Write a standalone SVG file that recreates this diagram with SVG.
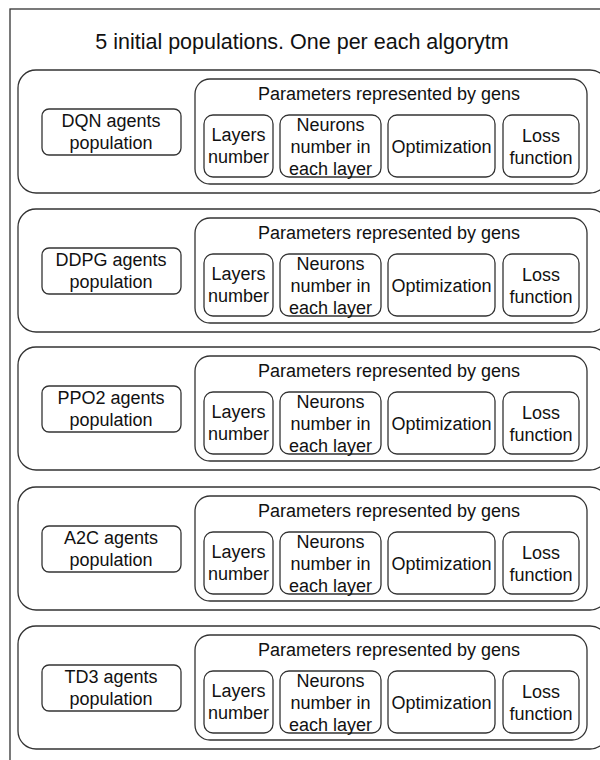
<svg xmlns="http://www.w3.org/2000/svg" width="600" height="760" viewBox="0 0 600 760">
<style>
.box{fill:#fff;stroke:#333;stroke-width:1.3}
.t{font-family:"Liberation Sans",Arial,sans-serif;font-size:18px;fill:#111;text-anchor:middle}
.title{font-family:"Liberation Sans",Arial,sans-serif;font-size:21.5px;fill:#111;text-anchor:middle}
</style>
<rect width="600" height="760" fill="#fff"/>
<g id="frame">
<rect class="box" x="10" y="9" width="600" height="770"/>
<text class="title" x="302" y="49">5 initial populations. One per each algorytm</text>
</g>
<g id="connectors"/>

<g id="row-dqn" transform="translate(0,0)">
<rect class="box" x="18" y="70" width="590" height="123" rx="18"/>
<g id="label-dqn"><rect class="box" x="42" y="109" width="139" height="46" rx="7"/>
<text class="t" x="111" y="127">DQN agents</text><text class="t" x="111" y="149">population</text></g>
<g id="params-dqn"><rect class="box" x="195" y="79" width="392" height="105" rx="15"/>
<text class="t" x="389" y="100">Parameters represented by gens</text>
<g id="layers-dqn"><rect class="box" x="204" y="115" width="69" height="62" rx="9"/><text class="t" x="238.5" y="141">Layers</text><text class="t" x="238.5" y="163">number</text></g>
<g id="neurons-dqn"><rect class="box" x="280" y="115" width="101" height="62" rx="9"/><text class="t" x="330.5" y="131">Neurons</text><text class="t" x="330.5" y="153">number in</text><text class="t" x="330.5" y="175">each layer</text></g>
<g id="optim-dqn"><rect class="box" x="388" y="115" width="107" height="62" rx="9"/><text class="t" x="441.5" y="153">Optimization</text></g>
<g id="loss-dqn"><rect class="box" x="503" y="115" width="76" height="62" rx="9"/><text class="t" x="541" y="142">Loss</text><text class="t" x="541" y="164">function</text></g>
</g>
</g>

<g id="row-ddpg" transform="translate(0,139)">
<rect class="box" x="18" y="70" width="590" height="123" rx="18"/>
<g id="label-ddpg"><rect class="box" x="42" y="109" width="139" height="46" rx="7"/>
<text class="t" x="111" y="127">DDPG agents</text><text class="t" x="111" y="149">population</text></g>
<g id="params-ddpg"><rect class="box" x="195" y="79" width="392" height="105" rx="15"/>
<text class="t" x="389" y="100">Parameters represented by gens</text>
<g id="layers-ddpg"><rect class="box" x="204" y="115" width="69" height="62" rx="9"/><text class="t" x="238.5" y="141">Layers</text><text class="t" x="238.5" y="163">number</text></g>
<g id="neurons-ddpg"><rect class="box" x="280" y="115" width="101" height="62" rx="9"/><text class="t" x="330.5" y="131">Neurons</text><text class="t" x="330.5" y="153">number in</text><text class="t" x="330.5" y="175">each layer</text></g>
<g id="optim-ddpg"><rect class="box" x="388" y="115" width="107" height="62" rx="9"/><text class="t" x="441.5" y="153">Optimization</text></g>
<g id="loss-ddpg"><rect class="box" x="503" y="115" width="76" height="62" rx="9"/><text class="t" x="541" y="142">Loss</text><text class="t" x="541" y="164">function</text></g>
</g>
</g>

<g id="row-ppo2" transform="translate(0,277)">
<rect class="box" x="18" y="70" width="590" height="123" rx="18"/>
<g id="label-ppo2"><rect class="box" x="42" y="109" width="139" height="46" rx="7"/>
<text class="t" x="111" y="127">PPO2 agents</text><text class="t" x="111" y="149">population</text></g>
<g id="params-ppo2"><rect class="box" x="195" y="79" width="392" height="105" rx="15"/>
<text class="t" x="389" y="100">Parameters represented by gens</text>
<g id="layers-ppo2"><rect class="box" x="204" y="115" width="69" height="62" rx="9"/><text class="t" x="238.5" y="141">Layers</text><text class="t" x="238.5" y="163">number</text></g>
<g id="neurons-ppo2"><rect class="box" x="280" y="115" width="101" height="62" rx="9"/><text class="t" x="330.5" y="131">Neurons</text><text class="t" x="330.5" y="153">number in</text><text class="t" x="330.5" y="175">each layer</text></g>
<g id="optim-ppo2"><rect class="box" x="388" y="115" width="107" height="62" rx="9"/><text class="t" x="441.5" y="153">Optimization</text></g>
<g id="loss-ppo2"><rect class="box" x="503" y="115" width="76" height="62" rx="9"/><text class="t" x="541" y="142">Loss</text><text class="t" x="541" y="164">function</text></g>
</g>
</g>

<g id="row-a2c" transform="translate(0,417)">
<rect class="box" x="18" y="70" width="590" height="123" rx="18"/>
<g id="label-a2c"><rect class="box" x="42" y="109" width="139" height="46" rx="7"/>
<text class="t" x="111" y="127">A2C agents</text><text class="t" x="111" y="149">population</text></g>
<g id="params-a2c"><rect class="box" x="195" y="79" width="392" height="105" rx="15"/>
<text class="t" x="389" y="100">Parameters represented by gens</text>
<g id="layers-a2c"><rect class="box" x="204" y="115" width="69" height="62" rx="9"/><text class="t" x="238.5" y="141">Layers</text><text class="t" x="238.5" y="163">number</text></g>
<g id="neurons-a2c"><rect class="box" x="280" y="115" width="101" height="62" rx="9"/><text class="t" x="330.5" y="131">Neurons</text><text class="t" x="330.5" y="153">number in</text><text class="t" x="330.5" y="175">each layer</text></g>
<g id="optim-a2c"><rect class="box" x="388" y="115" width="107" height="62" rx="9"/><text class="t" x="441.5" y="153">Optimization</text></g>
<g id="loss-a2c"><rect class="box" x="503" y="115" width="76" height="62" rx="9"/><text class="t" x="541" y="142">Loss</text><text class="t" x="541" y="164">function</text></g>
</g>
</g>

<g id="row-td3" transform="translate(0,556)">
<rect class="box" x="18" y="70" width="590" height="123" rx="18"/>
<g id="label-td3"><rect class="box" x="42" y="109" width="139" height="46" rx="7"/>
<text class="t" x="111" y="127">TD3 agents</text><text class="t" x="111" y="149">population</text></g>
<g id="params-td3"><rect class="box" x="195" y="79" width="392" height="105" rx="15"/>
<text class="t" x="389" y="100">Parameters represented by gens</text>
<g id="layers-td3"><rect class="box" x="204" y="115" width="69" height="62" rx="9"/><text class="t" x="238.5" y="141">Layers</text><text class="t" x="238.5" y="163">number</text></g>
<g id="neurons-td3"><rect class="box" x="280" y="115" width="101" height="62" rx="9"/><text class="t" x="330.5" y="131">Neurons</text><text class="t" x="330.5" y="153">number in</text><text class="t" x="330.5" y="175">each layer</text></g>
<g id="optim-td3"><rect class="box" x="388" y="115" width="107" height="62" rx="9"/><text class="t" x="441.5" y="153">Optimization</text></g>
<g id="loss-td3"><rect class="box" x="503" y="115" width="76" height="62" rx="9"/><text class="t" x="541" y="142">Loss</text><text class="t" x="541" y="164">function</text></g>
</g>
</g>
</svg>
